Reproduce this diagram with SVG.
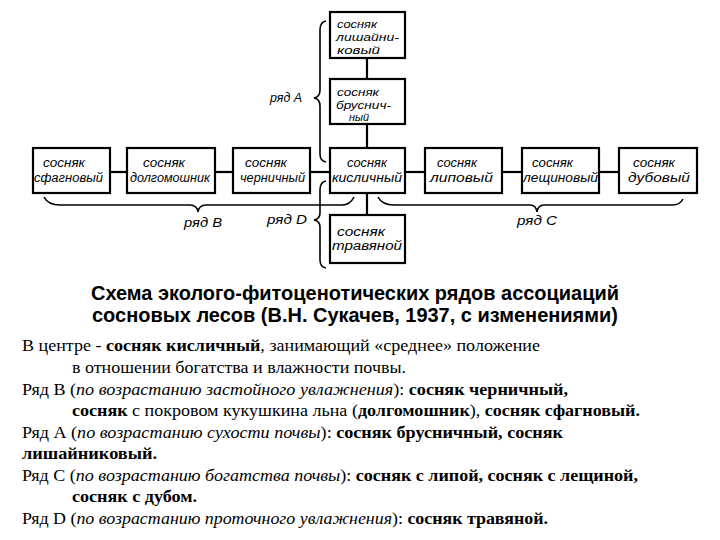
<svg xmlns="http://www.w3.org/2000/svg" width="720" height="540" viewBox="0 0 720 540">
<style>
.box{fill:#fff;stroke:#000;stroke-width:2.2}
.ln{stroke:#000;stroke-width:2.2;fill:none}
.br{stroke:#000;stroke-width:1.6;fill:none}
.bt{font-family:"Liberation Sans","DejaVu Sans",sans-serif;font-style:italic;font-size:12px;fill:#000}
.sm{font-size:11px}
.title{font-family:"Liberation Sans",Arial,sans-serif;font-weight:bold;font-size:19.5px;fill:#000}
.body{font-family:"Liberation Serif","Times New Roman",serif;font-size:16px;fill:#000}
.b{font-weight:bold}
.i{font-style:italic}
</style>
<rect width="720" height="540" fill="#fff"/>
<g id="connectors">
<line class="ln" x1="110" y1="172" x2="127" y2="172"/>
<line class="ln" x1="215" y1="172" x2="233" y2="172"/>
<line class="ln" x1="310" y1="172" x2="330" y2="172"/>
<line class="ln" x1="405" y1="172" x2="425" y2="172"/>
<line class="ln" x1="502" y1="172" x2="522" y2="172"/>
<line class="ln" x1="599" y1="172" x2="619" y2="172"/>
<line class="ln" x1="367" y1="58" x2="367" y2="79"/>
<line class="ln" x1="367" y1="124" x2="367" y2="148"/>
<line class="ln" x1="367" y1="193" x2="367" y2="215"/>
</g>
<g id="braces">
<path class="br" d="M326 21 Q320 22 320 30 L320 90 Q320 97 314 98 Q320 99 320 106 L320 154 Q320 161 326 162"/>
<path class="br" d="M326 181 Q320 182 320 190 L320 213 Q320 219 314 220 Q320 221 320 227 L320 260 Q320 267 326 268"/>
<path class="br" d="M44 197 Q48 205 60 205 L190 205 Q197 205 198 212 Q199 205 206 205 L342 205 Q350 205 354 197"/>
<path class="br" d="M378 197 Q382 205 394 205 L530 205 Q536 205 537 212 Q538 205 544 205 L672 205 Q680 205 683 199"/>
<text class="bt" x="270" y="102" textLength="32" lengthAdjust="spacingAndGlyphs">ряд А</text>
<text class="bt" x="267" y="224" textLength="40" lengthAdjust="spacingAndGlyphs">ряд D</text>
<text class="bt" x="184" y="227" textLength="38" lengthAdjust="spacingAndGlyphs">ряд В</text>
<text class="bt" x="517" y="225" textLength="40" lengthAdjust="spacingAndGlyphs">ряд С</text>
</g>
<g id="lishainikovy">
<rect class="box" x="330" y="12" width="75" height="46"/>
<text class="bt sm" x="337" y="28" textLength="40" lengthAdjust="spacingAndGlyphs">сосняк</text>
<text class="bt sm" x="336" y="41" textLength="63" lengthAdjust="spacingAndGlyphs">лишайни-</text>
<text class="bt sm" x="337" y="54" textLength="43" lengthAdjust="spacingAndGlyphs">ковый</text>
</g>
<g id="brusnichny">
<rect class="box" x="330" y="79" width="75" height="45"/>
<text class="bt sm" x="337" y="96" textLength="42" lengthAdjust="spacingAndGlyphs">сосняк</text>
<text class="bt sm" x="336" y="109" textLength="55" lengthAdjust="spacingAndGlyphs">бруснич-</text>
<text class="bt sm" x="349" y="121" textLength="20" lengthAdjust="spacingAndGlyphs">ный</text>
</g>
<g id="sfagnovy">
<rect class="box" x="33" y="148" width="77" height="45"/>
<text class="bt" x="43" y="167" textLength="42" lengthAdjust="spacingAndGlyphs">сосняк</text>
<text class="bt" x="34" y="182" textLength="69" lengthAdjust="spacingAndGlyphs">сфагновый</text>
</g>
<g id="dolgomoshnik">
<rect class="box" x="127" y="148" width="88" height="45"/>
<text class="bt" x="143" y="167" textLength="42" lengthAdjust="spacingAndGlyphs">сосняк</text>
<text class="bt" x="130" y="182" textLength="80" lengthAdjust="spacingAndGlyphs">долгомошник</text>
</g>
<g id="chernichny">
<rect class="box" x="233" y="148" width="77" height="45"/>
<text class="bt" x="245" y="167" textLength="42" lengthAdjust="spacingAndGlyphs">сосняк</text>
<text class="bt" x="240" y="182" textLength="65" lengthAdjust="spacingAndGlyphs">черничный</text>
</g>
<g id="kislichny">
<rect class="box" x="330" y="148" width="75" height="45"/>
<text class="bt" x="347" y="167" textLength="40" lengthAdjust="spacingAndGlyphs">сосняк</text>
<text class="bt" x="332" y="182" textLength="70" lengthAdjust="spacingAndGlyphs">кисличный</text>
</g>
<g id="lipovy">
<rect class="box" x="425" y="148" width="77" height="45"/>
<text class="bt" x="437" y="167" textLength="40" lengthAdjust="spacingAndGlyphs">сосняк</text>
<text class="bt" x="430" y="182" textLength="63" lengthAdjust="spacingAndGlyphs">липовый</text>
</g>
<g id="leshchinovy">
<rect class="box" x="522" y="148" width="77" height="45"/>
<text class="bt" x="532" y="167" textLength="41" lengthAdjust="spacingAndGlyphs">сосняк</text>
<text class="bt" x="523" y="182" textLength="75" lengthAdjust="spacingAndGlyphs">лещиновый</text>
</g>
<g id="dubovy">
<rect class="box" x="619" y="148" width="78" height="45"/>
<text class="bt" x="633" y="167" textLength="42" lengthAdjust="spacingAndGlyphs">сосняк</text>
<text class="bt" x="628" y="182" textLength="62" lengthAdjust="spacingAndGlyphs">дубовый</text>
</g>
<g id="travyanoy">
<rect class="box" x="330" y="215" width="75" height="48"/>
<text class="bt" x="337" y="236" textLength="48" lengthAdjust="spacingAndGlyphs">сосняк</text>
<text class="bt" x="332" y="250" textLength="70" lengthAdjust="spacingAndGlyphs">травяной</text>
</g>
<g id="caption">
<text class="title" x="91" y="300" textLength="528" lengthAdjust="spacingAndGlyphs">Схема эколого-фитоценотических рядов ассоциаций</text>
<text class="title" x="92" y="322" textLength="526" lengthAdjust="spacingAndGlyphs">сосновых лесов (В.Н. Сукачев, 1937, с изменениями)</text>
<text class="body" x="22" y="351" textLength="518" lengthAdjust="spacingAndGlyphs">В центре - <tspan class="b">сосняк кисличный</tspan>, занимающий «среднее» положение</text>
<text class="body" x="72" y="373" textLength="334" lengthAdjust="spacingAndGlyphs">в отношении богатства и влажности почвы.</text>
<text class="body" x="22" y="395" textLength="546" lengthAdjust="spacingAndGlyphs">Ряд В (<tspan class="i">по возрастанию застойного увлажнения</tspan>):  <tspan class="b">сосняк черничный,</tspan></text>
<text class="body" x="72" y="416" textLength="568" lengthAdjust="spacingAndGlyphs"><tspan class="b">сосняк</tspan> с покровом кукушкина льна (<tspan class="b">долгомошник</tspan>), <tspan class="b">сосняк сфагновый.</tspan></text>
<text class="body" x="22" y="438" textLength="541" lengthAdjust="spacingAndGlyphs">Ряд А (<tspan class="i">по возрастанию сухости почвы</tspan>): <tspan class="b">сосняк брусничный, сосняк</tspan></text>
<text class="body b" x="22" y="459" textLength="135" lengthAdjust="spacingAndGlyphs">лишайниковый.</text>
<text class="body" x="22" y="481" textLength="616" lengthAdjust="spacingAndGlyphs">Ряд С (<tspan class="i">по возрастанию богатства почвы</tspan>): <tspan class="b">сосняк с липой, сосняк с лещиной,</tspan></text>
<text class="body b" x="72" y="502" textLength="125" lengthAdjust="spacingAndGlyphs">сосняк с дубом.</text>
<text class="body" x="22" y="524" textLength="526" lengthAdjust="spacingAndGlyphs">Ряд D (<tspan class="i">по возрастанию проточного увлажнения</tspan>): <tspan class="b">сосняк травяной.</tspan></text>
</g>
</svg>
